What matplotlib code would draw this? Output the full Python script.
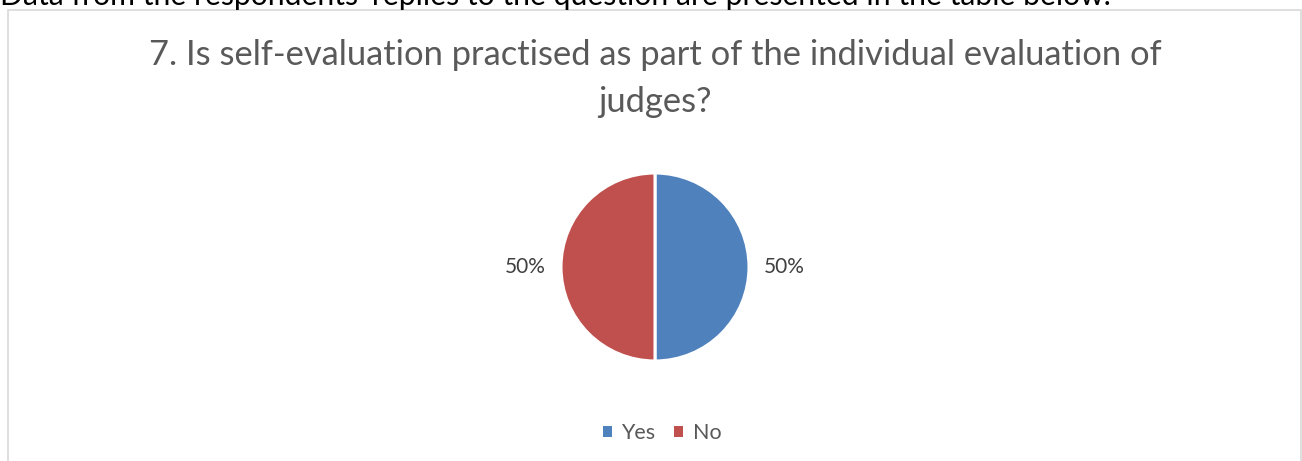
import matplotlib.pyplot as plt
from matplotlib.patches import Rectangle

# chart data
categories = ['Yes', 'No']
shares = [50, 50]
colors = ['#4F81BD', '#C0504D']

title_lines = ['7. Is self-evaluation practised as part of the individual evaluation of',
               'judges?']
caption = "Data from the respondents' replies to the question are presented in the table below."

W, H = 1302, 461
fig = plt.figure(figsize=(W / 100, H / 100), dpi=100)
plt.rcParams['font.family'] = ['Lato', 'DejaVu Sans']

# running text of the document, cut off by the top edge
fig.text(0.0, 1 - 5 / H, caption, fontsize=21.7, color='black',
         ha='left', va='baseline')

# chart area border
frame = Rectangle((7.5 / W, -0.1), (1301 - 7.5) / W, 1.1 - 10 / H,
                  transform=fig.transFigure, fill=False,
                  edgecolor='#d9d9d9', linewidth=1.2)
fig.patches.append(frame)

# title, two lines centred over the pie
for line, base in zip(title_lines, [65, 112]):
    fig.text(655 / W, 1 - base / H, line, fontsize=24.8, color='#595959',
             ha='center', va='baseline')

# pie axes: centre (655, 267), radius 94 px
r = 94
cx, cy = 655, 267
ax = fig.add_axes([(cx - r) / W, 1 - (cy + r) / H, 2 * r / W, 2 * r / H])
wedges, texts, autotexts = ax.pie(
    shares, colors=colors, startangle=90, counterclock=False,
    autopct='%d%%', pctdistance=1.38,
    wedgeprops=dict(edgecolor='white', linewidth=2.2),
    textprops=dict(fontsize=15, color='#404040'))
ax.set_xlim(-1, 1)
ax.set_ylim(-1, 1)
ax.set_aspect('equal')
ax.axis('off')

# legend with square swatches
handles = [Rectangle((0, 0), 1, 1, facecolor=c, edgecolor='none') for c in colors]
fig.legend(handles, categories, loc='center', bbox_to_anchor=(662 / W, 1 - 433 / H),
           ncol=2, frameon=False, fontsize=15.5, labelcolor='#595959',
           handlelength=0.42, handleheight=0.42, handletextpad=0.45,
           columnspacing=0.85)

fig.savefig('out.png', dpi=100)
